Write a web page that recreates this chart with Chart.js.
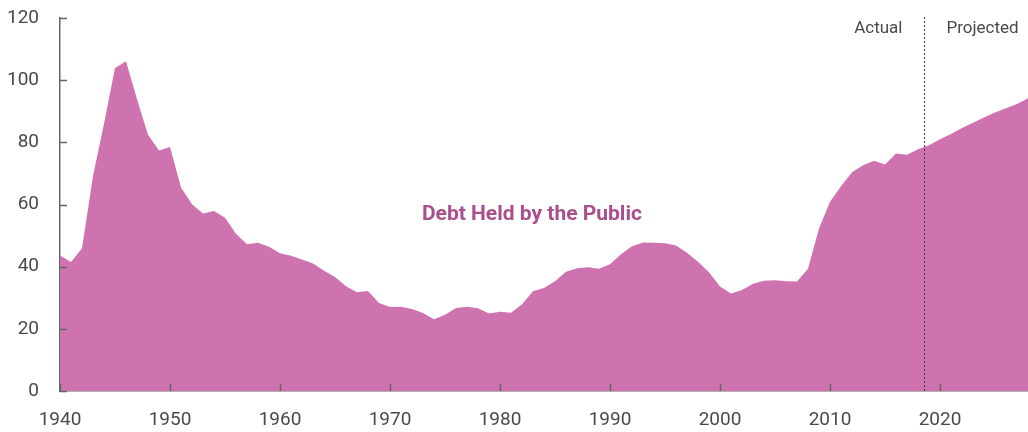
<!DOCTYPE html>
<html>
<head>
<meta charset="utf-8">
<script src="https://cdn.jsdelivr.net/npm/chart.js@4/dist/chart.umd.min.js"></script>
<style>
  html, body { margin: 0; padding: 0; background: #fff; overflow: hidden; }
  #wrap { width: 1028px; height: 432px; }
</style>
</head>
<body>
<div id="wrap"><canvas id="c" width="1028" height="432"></canvas></div>
<script>
// ---- Data (percentage of GDP) ----
const years = [
  1940,1941,1942,1943,1944,1945,1946,1947,1948,1949,
  1950,1951,1952,1953,1954,1955,1956,1957,1958,1959,
  1960,1961,1962,1963,1964,1965,1966,1967,1968,1969,
  1970,1971,1972,1973,1974,1975,1976,1977,1978,1979,
  1980,1981,1982,1983,1984,1985,1986,1987,1988,1989,
  1990,1991,1992,1993,1994,1995,1996,1997,1998,1999,
  2000,2001,2002,2003,2004,2005,2006,2007,2008,2009,
  2010,2011,2012,2013,2014,2015,2016,2017,2018,2019,
  2020,2021,2022,2023,2024,2025,2026,2027,2028
];
const debtHeldByPublic = [
  43.6,41.5,45.9,69.2,86.0,103.9,106.1,93.9,82.4,77.4,
  78.5,65.5,60.1,57.1,57.9,55.7,50.6,47.2,47.7,46.4,
  44.3,43.5,42.3,41.0,38.7,36.7,33.7,31.8,32.2,28.3,
  27.0,27.1,26.4,25.1,23.1,24.5,26.7,27.1,26.6,24.9,
  25.5,25.2,27.9,32.1,33.1,35.3,38.4,39.5,39.8,39.3,
  40.8,44.0,46.6,47.8,47.7,47.5,46.8,44.5,41.6,38.2,
  33.6,31.4,32.5,34.5,35.5,35.6,35.3,35.2,39.3,52.3,
  60.9,65.9,70.4,72.6,74.1,72.9,76.4,76.0,77.8,79.1,
  81.0,82.7,84.6,86.3,88.0,89.6,91.0,92.3,94.2
];
const yTicks = [0, 20, 40, 60, 80, 100, 120];
const xTicks = [1940, 1950, 1960, 1970, 1980, 1990, 2000, 2010, 2020];
const dividerYear = 2018.5;
const seriesLabel = 'Debt Held by the Public';
const actualLabel = 'Actual';
const projectedLabel = 'Projected';

const AREA = '#cf73b0';
const AXIS = '#666666';
const TEXT = '#4a4a4a';
const SERIES_TEXT = '#a94f8e';
const FONT = 'Roboto, "Open Sans", sans-serif';

const points = years.map((y, i) => ({ x: y, y: debtHeldByPublic[i] }));

const decor = {
  id: 'decor',
  afterDatasetsDraw(chart) {
    const { ctx, chartArea: a, scales: { x, y } } = chart;
    ctx.save();
    // inward tick marks
    ctx.strokeStyle = AXIS;
    ctx.lineWidth = 1.5;
    ctx.beginPath();
    yTicks.forEach(v => {
      const py = Math.round(y.getPixelForValue(v)) + 0.5;
      ctx.moveTo(a.left, py); ctx.lineTo(a.left + 7, py);
    });
    xTicks.forEach(v => {
      const px = Math.round(x.getPixelForValue(v)) + 0.5;
      ctx.moveTo(px, a.bottom); ctx.lineTo(px, a.bottom - 7);
    });
    ctx.stroke();
    // divider
    const dx = Math.round(x.getPixelForValue(dividerYear)) + 0.5;
    ctx.strokeStyle = '#444';
    ctx.lineWidth = 1.2;
    ctx.setLineDash([2, 2]);
    ctx.beginPath();
    ctx.moveTo(dx, a.top - 1); ctx.lineTo(dx, a.bottom);
    ctx.stroke();
    ctx.setLineDash([]);
    // labels
    ctx.fillStyle = TEXT;
    ctx.font = '17px ' + FONT;
    ctx.textBaseline = 'middle';
    ctx.textAlign = 'right';
    ctx.fillText(actualLabel, dx - 22, 29);
    ctx.textAlign = 'left';
    ctx.fillText(projectedLabel, dx + 22, 29);
    // series label
    ctx.fillStyle = SERIES_TEXT;
    ctx.font = 'bold 21px ' + FONT;
    ctx.textAlign = 'center';
    ctx.fillText(seriesLabel, x.getPixelForValue(1982.9), y.getPixelForValue(56.6));
    ctx.restore();
  }
};

new Chart(document.getElementById('c'), {
  type: 'line',
  data: {
    datasets: [{
      label: seriesLabel,
      data: points,
      fill: 'origin',
      backgroundColor: AREA,
      borderWidth: 0,
      borderColor: AREA,
      pointRadius: 0,
      tension: 0
    }]
  },
  options: {
    responsive: false,
    animation: false,
    devicePixelRatio: 1,
    layout: { padding: { top: 18, right: 0, bottom: 0, left: 0 } },
    plugins: { legend: { display: false }, tooltip: { enabled: false } },
    scales: {
      x: {
        type: 'linear',
        min: 1940, max: 2028,
        afterFit(s) { s.height = 41; s.paddingLeft = 0; s.paddingRight = 0; },
        afterBuildTicks(s) { s.ticks = xTicks.map(v => ({ value: v })); },
        grid: { display: false },
        border: { display: true, color: AXIS, width: 1.5 },
        ticks: {
          autoSkip: false, maxRotation: 0, includeBounds: false,
          color: TEXT, padding: 10,
          font: { family: FONT, size: 19 },
          callback: v => String(v)
        }
      },
      y: {
        min: 0, max: 120,
        afterFit(s) { s.width = 60; s.paddingTop = 0; s.paddingBottom = 0; },
        afterBuildTicks(s) { s.ticks = yTicks.map(v => ({ value: v })); },
        grid: { display: false },
        border: { display: true, color: AXIS, width: 1.5 },
        ticks: {
          color: TEXT, padding: 13,
          font: { family: FONT, size: 19 },
          callback: v => String(v)
        }
      }
    }
  },
  plugins: [decor]
});
</script>
</body>
</html>
